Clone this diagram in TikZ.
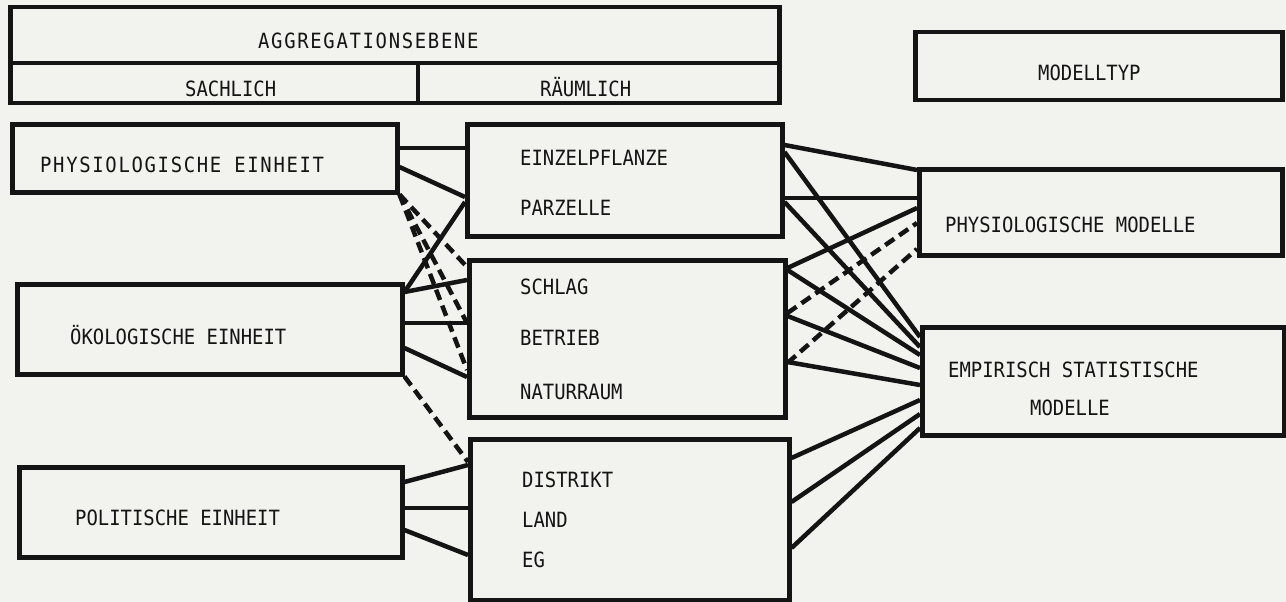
\documentclass[tikz,border=0pt]{standalone}
\usepackage{fontspec}
\newfontfamily\twfont[FakeStretch=0.9]{DejaVu Sans Mono}
\newfontfamily\twwide[FakeStretch=0.9,LetterSpace=8]{DejaVu Sans Mono}
\definecolor{bg}{RGB}{242,242,238}
\definecolor{ink}{RGB}{20,20,20}
\begin{document}
\begin{tikzpicture}[x=1pt,y=-1pt,
  box/.style={draw=ink,line width=4.5pt,rectangle,inner sep=0pt,anchor=north west},
  lbl/.style={anchor=west,inner sep=0pt,text height=15.3pt,text depth=0pt,text=ink,font=\twfont\fontsize{21}{21}\selectfont},
  wlbl/.style={lbl,font=\twwide\fontsize{21}{21}\selectfont},
  conn/.style={draw=ink,line width=4.5pt},
  dconn/.style={conn,dash pattern=on 11pt off 6pt}]
\fill[bg] (0,0) rectangle (1286,602);
\useasboundingbox (0,0) rectangle (1286,602);
% boxes
\node[box,minimum width=769pt,minimum height=96pt] (agg) at (8,5) {};
\node[box,minimum width=367pt,minimum height=68pt] (typ) at (913,30) {};
\node[box,minimum width=385pt,minimum height=68pt] (L1) at (10,122) {};
\node[box,minimum width=385pt,minimum height=90pt] (L2) at (15,282) {};
\node[box,minimum width=383pt,minimum height=90pt] (L3) at (17,465) {};
\node[box,minimum width=315pt,minimum height=112pt] (M1) at (465,122) {};
\node[box,minimum width=316pt,minimum height=157pt] (M2) at (467,258) {};
\node[box,minimum width=319pt,minimum height=161pt] (M3) at (468,437) {};
\node[box,minimum width=363pt,minimum height=86pt] (R1) at (917,167) {};
\node[box,minimum width=362pt,minimum height=108pt] (R2) at (920,325) {};
% dividers of the top box
\coordinate (div) at (418,63);
\draw[conn] (agg.west |- div) -- (agg.east |- div);
\draw[conn] (div) -- (div |- agg.south);
% texts
\node[wlbl] (tagg) at (258,41) {AGGREGATIONSEBENE};
\node[lbl] (tsach) at (185,89) {SACHLICH};
\node[lbl] (traum) at (540,89) {RÄUMLICH};
\node[lbl] (ttyp) at (1038,73) {MODELLTYP};
\node[wlbl] (tl1) at (40,165) {PHYSIOLOGISCHE EINHEIT};
\node[lbl] (tl2) at (70,337) {ÖKOLOGISCHE EINHEIT};
\node[lbl] (tl3) at (75,518) {POLITISCHE EINHEIT};
\node[lbl] (tm1a) at (520,158) {EINZELPFLANZE};
\node[lbl] (tm1b) at (520,208) {PARZELLE};
\node[lbl] (tm2a) at (520,287) {SCHLAG};
\node[lbl] (tm2b) at (520,338) {BETRIEB};
\node[lbl] (tm2c) at (520,392) {NATURRAUM};
\node[lbl] (tm3a) at (522,480) {DISTRIKT};
\node[lbl] (tm3b) at (522,520) {LAND};
\node[lbl] (tm3c) at (522,560) {EG};
\node[lbl] (tr1) at (945,225) {PHYSIOLOGISCHE MODELLE};
\node[lbl] (tr2a) at (948,370) {EMPIRISCH STATISTISCHE};
\node[lbl] (tr2b) at (1030,408) {MODELLE};
% left connectors
\draw[conn] (L1.east |- 0,148) -- (M1.west |- 0,148);
\draw[conn] (L1.east |- 0,167) -- (M1.west |- 0,197);
\draw[dconn] (L1.south east) -- (M2.west |- 0,267);
\draw[dconn] (L1.south east) -- (M2.west |- 0,323);
\draw[dconn] (L1.south east) -- (M2.west |- 0,370);
\draw[conn] (L2.east |- 0,292) -- (M1.west |- 0,202);
\draw[conn] (L2.east |- 0,292) -- (M2.west |- 0,280);
\draw[conn] (L2.east |- 0,323) -- (M2.west |- 0,323);
\draw[conn] (L2.east |- 0,348) -- (M2.west |- 0,377);
\draw[dconn] (L2.south east) -- (M3.west |- 0,462);
\draw[conn] (L3.east |- 0,482) -- (M3.west |- 0,465);
\draw[conn] (L3.east |- 0,508) -- (M3.west |- 0,508);
\draw[conn] (L3.east |- 0,530) -- (M3.west |- 0,555);
% right connectors
\draw[conn] (M1.east |- 0,145) -- (R1.west |- 0,170);
\draw[conn] (M1.east |- 0,152) -- (R2.west |- 0,337);
\draw[conn] (M1.east |- 0,198) -- (R1.west |- 0,198);
\draw[conn] (M1.east |- 0,202) -- (R2.west |- 0,347);
\draw[conn] (M2.east |- 0,268) -- (R1.west |- 0,208);
\draw[conn] (M2.east |- 0,270) -- (R2.west |- 0,355);
\draw[dconn] (M2.east |- 0,313) -- (R1.west |- 0,223);
\draw[conn] (M2.east |- 0,316) -- (R2.west |- 0,368);
\draw[dconn] (M2.east |- 0,363) -- (R1.west |- 0,249);
\draw[conn] (M2.east |- 0,362) -- (R2.west |- 0,385);
\draw[conn] (M3.east |- 0,458) -- (R2.west |- 0,400);
\draw[conn] (M3.east |- 0,502) -- (R2.west |- 0,414);
\draw[conn] (M3.east |- 0,548) -- (R2.west |- 0,428);
\end{tikzpicture}
\end{document}
